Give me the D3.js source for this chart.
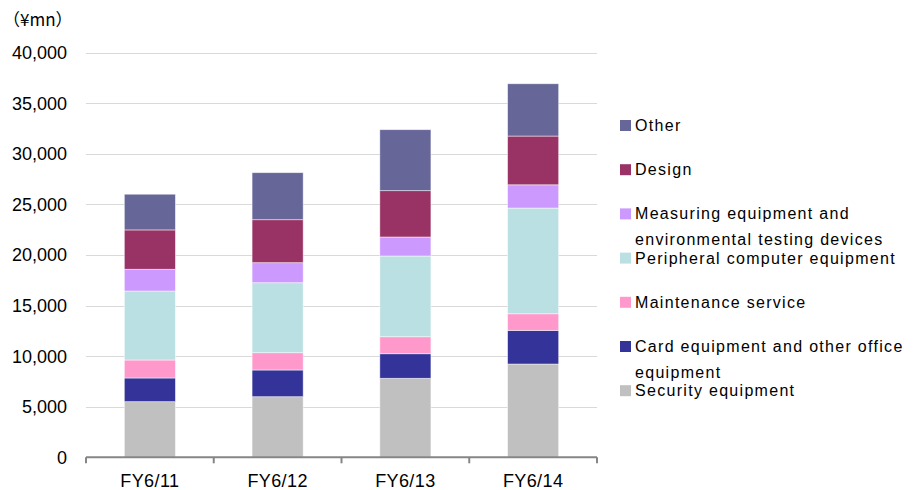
<!DOCTYPE html>
<html>
<head>
<meta charset="utf-8">
<script src="https://cdn.jsdelivr.net/npm/d3@7"></script>
<style>
  html, body { margin: 0; padding: 0; background: #fff; }
  svg { display: block; }
  text { font-family: "Liberation Sans", Arial, sans-serif; fill: #000; }
</style>
</head>
<body>
<svg id="chart" width="918" height="490"></svg>
<script>
// Net sales by segment, ¥ million
const years = ["FY6/11", "FY6/12", "FY6/13", "FY6/14"];
const security    = [5500, 5990, 7810, 9220];
const cardOffice  = [2340, 2640, 2430, 3330];
const maintenance = [1780, 1710, 1680, 1640];
const peripheral  = [6820, 6920, 7980, 10450];
const measuring   = [2150, 1980, 1880, 2300];
const design      = [3890, 4250, 4580, 4820];
const other       = [3530, 4650, 6030, 5170];
const yTicks = [0, 5000, 10000, 15000, 20000, 25000, 30000, 35000, 40000];

// stack order, bottom to top
const series = [
  { key: "security",    name: ["Security equipment"], values: security, color: "#C0C0C0" },
  { key: "card",        name: ["Card equipment and other office", "equipment"], values: cardOffice, color: "#333399" },
  { key: "maintenance", name: ["Maintenance service"], values: maintenance, color: "#FF99CC" },
  { key: "peripheral",  name: ["Peripheral computer equipment"], values: peripheral, color: "#BBE0E3" },
  { key: "measuring",   name: ["Measuring equipment and", "environmental testing devices"], values: measuring, color: "#CC99FF" },
  { key: "design",      name: ["Design"], values: design, color: "#993366" },
  { key: "other",       name: ["Other"], values: other, color: "#666699" }
];

const rows = years.map((y, i) => {
  const r = { year: y };
  series.forEach(s => { r[s.key] = s.values[i]; });
  return r;
});

const svg = d3.select("#chart");
const plot = { left: 86, right: 597, top: 52.7, bottom: 457.3 };

const x = d3.scaleBand().domain(years).range([plot.left, plot.right]).padding(0);
const y = d3.scaleLinear().domain([0, 40000]).range([plot.bottom, plot.top]);

// gridlines
svg.append("g")
  .selectAll("line")
  .data(yTicks.filter(t => t > 0))
  .join("line")
  .attr("x1", plot.left).attr("x2", plot.right)
  .attr("y1", d => Math.round(y(d)) + 0.5).attr("y2", d => Math.round(y(d)) + 0.5)
  .attr("stroke", "#d9d9d9").attr("stroke-width", 1.2);

// y tick labels
svg.append("g")
  .selectAll("text")
  .data(yTicks)
  .join("text")
  .attr("x", 67)
  .attr("y", d => y(d))
  .attr("dy", "0.36em")
  .attr("text-anchor", "end")
  .style("font-size", "18px")
  .text(d => d3.format(",")(d));

// unit label
svg.append("text")
  .attr("x", 3).attr("y", 26)
  .style("font-family", "'Noto Sans CJK JP', sans-serif")
  .style("font-size", "17px")
  .text("（¥mn）");

// stacked bars
const stack = d3.stack().keys(series.map(s => s.key));
const stacked = stack(rows);
const barW = x.bandwidth() * 0.4;

svg.append("g")
  .selectAll("g")
  .data(stacked)
  .join("g")
  .attr("fill", (d, i) => series[i].color)
  .selectAll("rect")
  .data(d => d)
  .join("rect")
  .attr("x", d => x(d.data.year) + (x.bandwidth() - barW) / 2)
  .attr("width", barW)
  .attr("y", d => y(d[1]))
  .attr("height", d => y(d[0]) - y(d[1]))
  .attr("stroke", "rgba(255,255,255,0.6)")
  .attr("stroke-width", 0.8);

// category axis
const axis = svg.append("g");
axis.append("line")
  .attr("x1", plot.left).attr("x2", plot.right)
  .attr("y1", plot.bottom).attr("y2", plot.bottom)
  .attr("stroke", "#868686").attr("stroke-width", 2);
const bounds = years.map(d => x(d)).concat([plot.right]);
axis.selectAll("line.tick")
  .data(bounds)
  .join("line")
  .attr("class", "tick")
  .attr("x1", d => d).attr("x2", d => d)
  .attr("y1", plot.bottom).attr("y2", plot.bottom + 6)
  .attr("stroke", "#868686").attr("stroke-width", 2);
axis.selectAll("text")
  .data(years)
  .join("text")
  .attr("x", d => x(d) + x.bandwidth() / 2)
  .attr("y", 487)
  .attr("text-anchor", "middle")
  .style("font-size", "18px")
  .style("letter-spacing", "0.4px")
  .text(d => d);

// legend, top entry first
const legend = svg.append("g");
const legendItems = series.slice().reverse();
const lg = legend.selectAll("g")
  .data(legendItems)
  .join("g")
  .attr("transform", (d, i) => `translate(620, ${120 + i * 44.2})`);
lg.append("rect")
  .attr("width", 11).attr("height", 11)
  .attr("fill", d => d.color);
lg.each(function(d) {
  const t = d3.select(this).append("text")
    .attr("x", 15).attr("y", 11)
    .style("font-size", "16px")
    .style("letter-spacing", "1.3px");
  d.name.forEach((line, j) => {
    t.append("tspan").attr("x", 15).attr("y", 11 + j * 25.5).text(line);
  });
});
</script>
</body>
</html>
